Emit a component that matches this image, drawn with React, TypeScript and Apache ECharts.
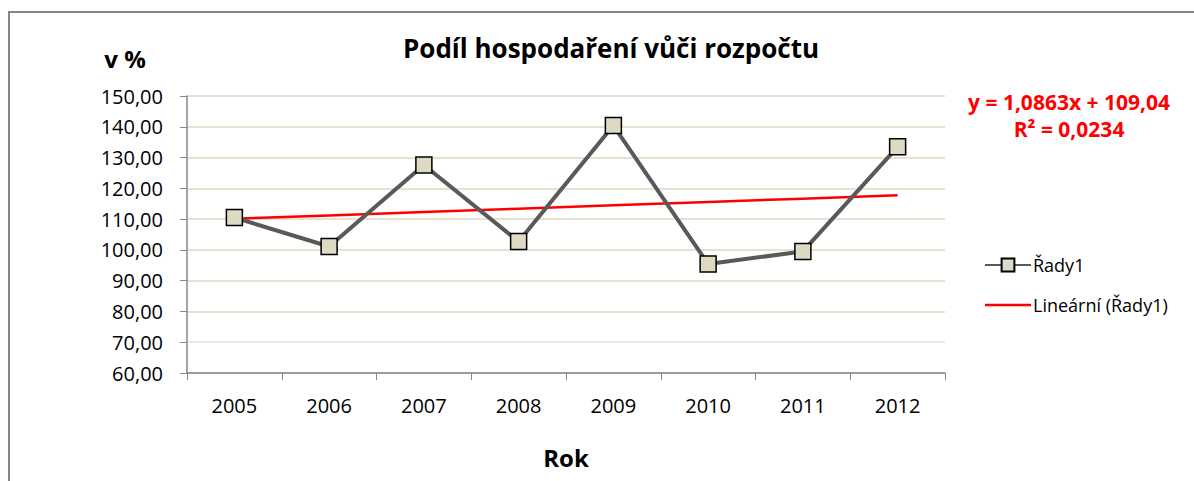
import React, { useEffect, useRef } from "react";
import * as echarts from "echarts";

const years = ["2005", "2006", "2007", "2008", "2009", "2010", "2011", "2012"];
const shares = [110.5, 101.1, 127.6, 102.7, 140.4, 95.4, 99.5, 133.5];
const trendSlope = 1.0863;
const trendIntercept = 109.04;
const trendLabel = "y = 1,0863x + 109,04";
const r2Label = "R² = 0,0234";
const seriesName = "Řady1";
const trendName = "Lineární (Řady1)";

const FONT = "'Open Sans', sans-serif";
const LINE_ICON = "path://M0,0L0.01,0L0.01,0.01Z M0,6.8L46,6.8L46,9.3L0,9.3Z M0,15.99L0.01,15.99L0.01,16Z";

export default function App() {
  const ref = useRef<HTMLDivElement>(null);
  useEffect(() => {
    document.body.style.margin = "0";
    const chart = echarts.init(ref.current!, null, { renderer: "svg" });
    const trend = years.map((_, i) => +(trendIntercept + trendSlope * (i + 1)).toFixed(3));
    const gridColors = ["#ddd9c3", "#dbe3ef", "#ddd9c3", "#ddd9c3", "#ddd9c3", "#ddd9c3", "#ddd9c3", "#ddd9c3", "#ddd9c3", "#ddd9c3"];
    chart.setOption({
      animation: false,
      textStyle: { fontFamily: FONT },
      title: {
        text: "Podíl hospodaření vůči rozpočtu",
        left: 606,
        textAlign: "center",
        top: 30,
        textStyle: { fontFamily: FONT, fontSize: 26, fontWeight: "bold", color: "#000" },
      },
      grid: { left: 187, right: 249, top: 96, bottom: 108, containLabel: false },
      xAxis: {
        type: "category",
        data: years,
        boundaryGap: true,
        name: "Rok",
        nameLocation: "middle",
        nameGap: 72,
        nameTextStyle: { fontFamily: FONT, fontSize: 24, fontWeight: "bold", color: "#000" },
        axisLine: { lineStyle: { color: "#868686", width: 1.5 } },
        axisTick: { show: true, alignWithLabel: false, length: 7, lineStyle: { color: "#868686" } },
        axisLabel: { margin: 22, fontSize: 20, color: "#000", fontFamily: FONT },
      },
      yAxis: {
        type: "value",
        min: 60,
        max: 150,
        interval: 10,
        axisLine: { show: true, lineStyle: { color: "#868686", width: 1.5 } },
        axisTick: { show: true, inside: false, length: 7, lineStyle: { color: "#868686" } },
        axisLabel: {
          margin: 24,
          fontSize: 20,
          color: "#000",
          fontFamily: FONT,
          formatter: (v: number) => v.toFixed(2).replace(".", ","),
        },
        splitLine: { show: true, lineStyle: { color: gridColors, width: 1.5 } },
      },
      legend: {
        orient: "vertical",
        left: 979,
        top: 251,
        itemGap: 22,
        itemWidth: 46,
        itemHeight: 16,
        textStyle: { fontFamily: FONT, fontSize: 18, color: "#000", padding: [0, 0, 0, -3] },
        data: [{ name: seriesName }, { name: trendName, icon: LINE_ICON }],
      },
      series: [
        {
          name: trendName,
          type: "line",
          data: trend,
          symbol: "none",
          lineStyle: { color: "#ff0000", width: 2.5 },
          itemStyle: { color: "#ff0000" },
          z: 3,
        },
        {
          name: seriesName,
          type: "line",
          data: shares,
          symbol: "rect",
          symbolSize: 16,
          lineStyle: { color: "#595959", width: 4 },
          itemStyle: { color: "#ddd9c3", borderColor: "#000", borderWidth: 1.5 },
          z: 4,
        },
      ],
      graphic: [
        {
          type: "rect",
          shape: { x: 9, y: 12, width: 1200, height: 500 },
          style: { fill: "none", stroke: "#868686", lineWidth: 2 },
          silent: true,
        },
        {
          type: "text",
          x: 125,
          y: 58,
          style: {
            text: "v %",
            fontFamily: FONT,
            fontSize: 24,
            fontWeight: "bold",
            fill: "#000",
            align: "center",
            verticalAlign: "middle",
          },
        },
        {
          type: "text",
          x: 1069,
          y: 102,
          style: {
            text: trendLabel,
            fontFamily: FONT,
            fontSize: 21,
            fontWeight: "bold",
            fill: "#ff0000",
            align: "center",
            verticalAlign: "middle",
          },
        },
        {
          type: "text",
          x: 1069,
          y: 129,
          style: {
            text: r2Label,
            fontFamily: FONT,
            fontSize: 21,
            fontWeight: "bold",
            fill: "#ff0000",
            align: "center",
            verticalAlign: "middle",
          },
        },
      ],
    });
    return () => chart.dispose();
  }, []);
  return <div ref={ref} style={{ width: 1194, height: 481 }} />;
}
